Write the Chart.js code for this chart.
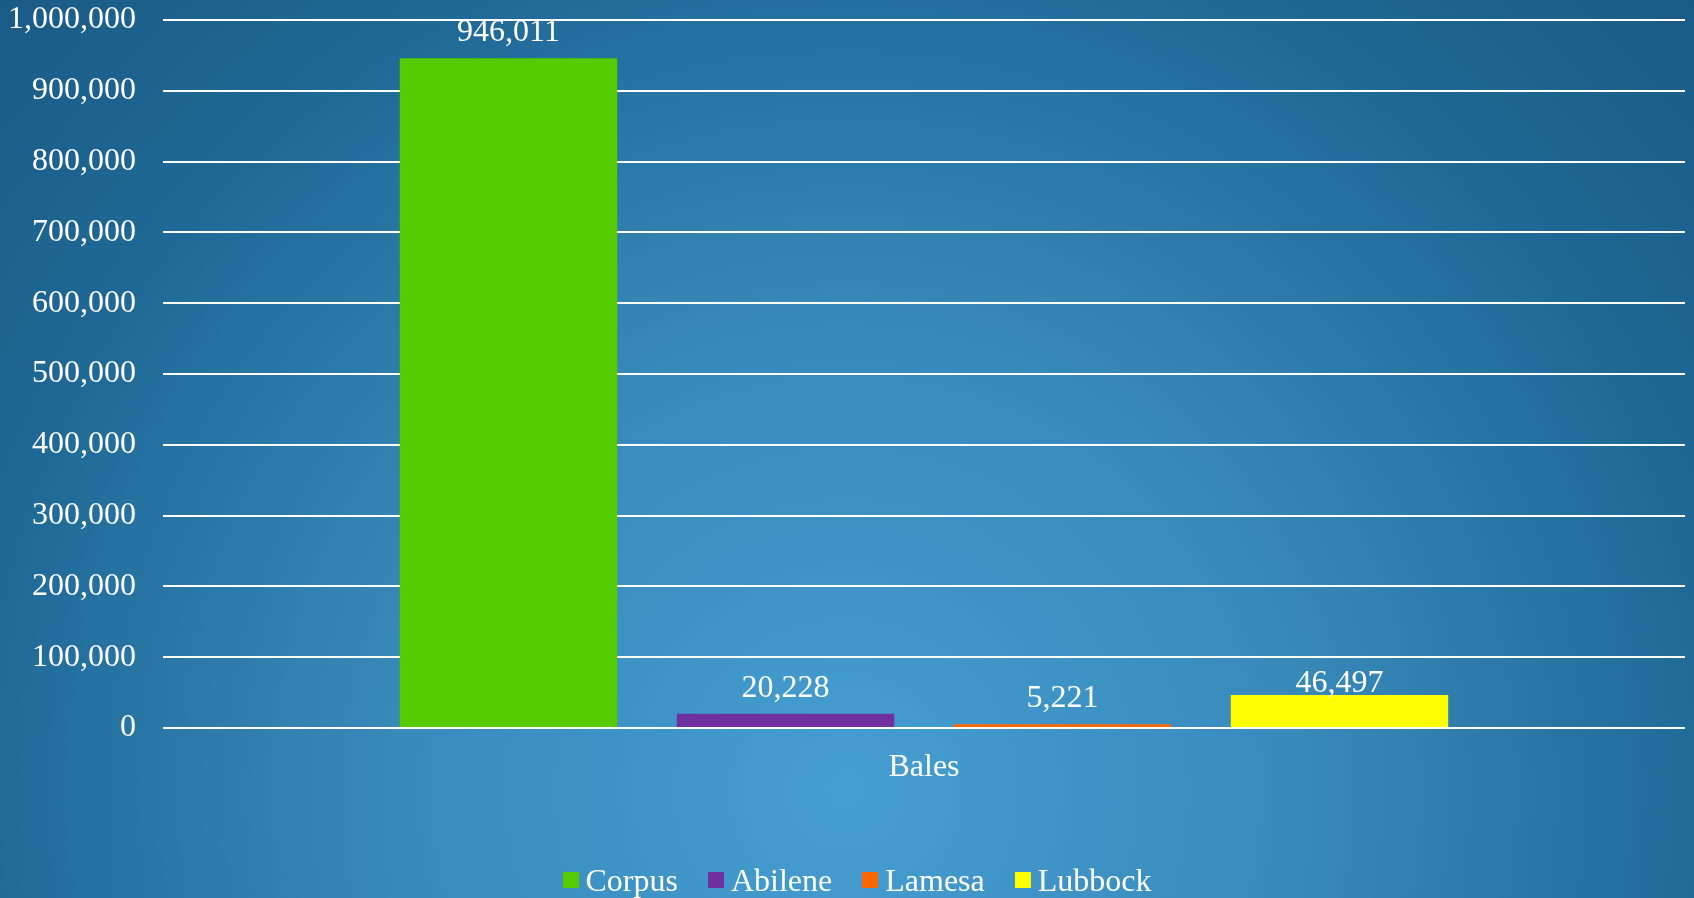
<!DOCTYPE html>
<html>
<head>
<meta charset="utf-8">
<script src="https://cdn.jsdelivr.net/npm/chart.js@4/dist/chart.umd.min.js"></script>
<style>
  html, body { margin: 0; padding: 0; }
  body {
    width: 1694px; height: 898px; overflow: hidden; position: relative;
    background: radial-gradient(circle farthest-corner at 50% 88%, #459ed2 0%, #3789ba 40%, #1f6996 75%, #1a5b86 100%);
    font-family: "Liberation Serif", "Times New Roman", serif;
  }
  #wrap { position: absolute; left: 0; top: 0; width: 1694px; height: 898px; }
  #legend {
    position: absolute; left: 20px; width: 1674px; top: 862px; height: 36px;
    display: flex; justify-content: center; align-items: center;
    color: #fff; font-size: 32px; line-height: 36px;
  }
  .item { display: flex; align-items: center; margin: 0 15px; }
  .box { width: 16px; height: 16px; margin-right: 7px; }
</style>
</head>
<body>
<div id="wrap"><canvas id="c" width="1694" height="898"></canvas></div>
<div id="legend"></div>
<script>
const categories = ['Bales'];
const seriesNames = ['Corpus', 'Abilene', 'Lamesa', 'Lubbock'];
const corpusValues = [946011];
const abileneValues = [20228];
const lamesaValues = [5221];
const lubbockValues = [46497];
const yTicks = [0, 100000, 200000, 300000, 400000, 500000, 600000, 700000, 800000, 900000, 1000000];

const seriesValues = [corpusValues, abileneValues, lamesaValues, lubbockValues];
const seriesColors = ['#55cc00', '#7030a0', '#ff6600', '#ffff00'];
const labelLift = [17, 17, 17, 3];

const fmt = v => Number(v).toLocaleString('en-US');
const FONT = '"Liberation Serif", "Times New Roman", serif';

const datasets = seriesNames.map((name, i) => ({
  label: name,
  data: seriesValues[i],
  backgroundColor: seriesColors[i],
  borderWidth: 0,
  categoryPercentage: 0.728,
  barPercentage: 0.785
}));

const valueLabels = {
  id: 'valueLabels',
  afterDatasetsDraw(chart) {
    const ctx = chart.ctx;
    ctx.save();
    ctx.fillStyle = '#ffffff';
    ctx.font = '32px ' + FONT;
    ctx.textAlign = 'center';
    ctx.textBaseline = 'alphabetic';
    chart.data.datasets.forEach((ds, i) => {
      const meta = chart.getDatasetMeta(i);
      meta.data.forEach((bar, j) => {
        ctx.fillText(fmt(ds.data[j]), bar.x, bar.y - labelLift[i]);
      });
    });
    ctx.restore();
  }
};

new Chart(document.getElementById('c'), {
  type: 'bar',
  data: { labels: categories, datasets },
  options: {
    responsive: false,
    animation: false,
    layout: { padding: { left: 0, right: 9, top: 20, bottom: 100 } },
    plugins: { legend: { display: false }, tooltip: { enabled: false } },
    scales: {
      x: {
        grid: { display: false, drawTicks: false },
        border: { display: false },
        ticks: { color: '#ffffff', font: { family: FONT, size: 32 }, padding: 20 },
        afterFit(scale) { scale.height = 70; scale.paddingLeft = 0; scale.paddingRight = 0; }
      },
      y: {
        min: 0, max: 1000000,
        afterBuildTicks(scale) { scale.ticks = yTicks.map(v => ({ value: v })); },
        grid: { color: '#ffffff', lineWidth: 2, drawTicks: false },
        border: { display: false },
        ticks: { color: '#ffffff', font: { family: FONT, size: 32 }, padding: 27, callback: v => fmt(v) },
        afterFit(scale) { scale.width = 163; scale.paddingTop = 0; scale.paddingBottom = 0; }
      }
    }
  },
  plugins: [valueLabels]
});

const legend = document.getElementById('legend');
seriesNames.forEach((name, i) => {
  const it = document.createElement('div');
  it.className = 'item';
  const b = document.createElement('span');
  b.className = 'box';
  b.style.background = seriesColors[i];
  const t = document.createElement('span');
  t.textContent = name;
  it.appendChild(b); it.appendChild(t);
  legend.appendChild(it);
});
</script>
</body>
</html>
